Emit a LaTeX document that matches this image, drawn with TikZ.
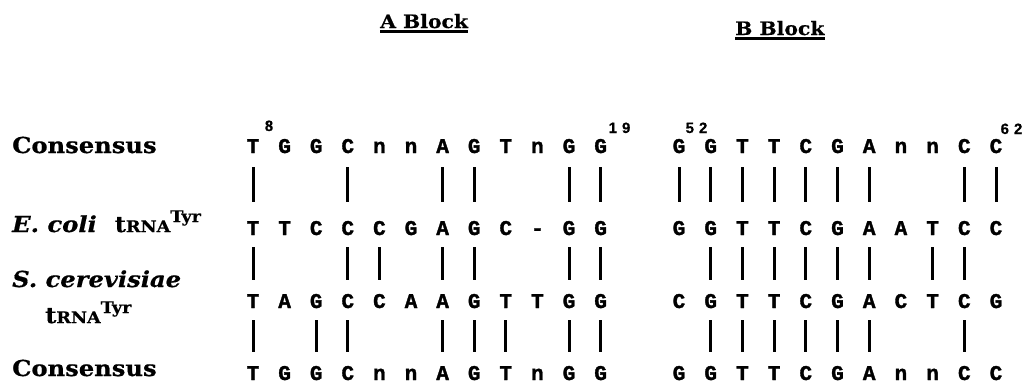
\documentclass[tikz,border=0pt]{standalone}
\usepackage{fontspec}
\newfontfamily\labf{DejaVu Serif}[FakeStretch=1.1,BoldFeatures={FakeBold=0.6},BoldItalicFeatures={FakeBold=0.6}]
\newfontfamily\seqf{Liberation Mono}[BoldFeatures={FakeBold=1.6}]
\newfontfamily\numf{Liberation Sans}[BoldFeatures={FakeBold=0.5}]
\begin{document}
\begin{tikzpicture}[x=1pt,y=-1pt,
  lab/.style={anchor=base west,inner sep=0pt,font=\labf\bfseries\fontsize{22}{24}\selectfont},
  ttl/.style={anchor=base west,inner sep=0pt,font=\labf\bfseries\fontsize{18.5}{20}\selectfont},
  seqch/.style={anchor=base,inner sep=0pt,font=\seqf\bfseries\fontsize{21}{22}\selectfont},
  num/.style={anchor=base,inner sep=0pt,font=\numf\bfseries\fontsize{15}{16}\selectfont},
  bar/.style={line width=3pt},
  uline/.style={line width=2.5pt}]
\useasboundingbox (0,0) rectangle (1027,388);
% titles
\node[ttl] (tA) at (380,28) {A Block};
\node[ttl] (tB) at (735,35) {B Block};
\draw[uline] ([yshift=-3.5pt]tA.base west) -- ([yshift=-3.5pt]tA.base east);
\draw[uline] ([yshift=-3.5pt]tB.base west) -- ([yshift=-3.5pt]tB.base east);
% row labels
\node[lab] (cons1) at (12,153) {Consensus};
\node[lab] (ecoli) at (12,232) {\itshape E. coli\upshape\hspace{18pt}t{\fontsize{16}{16}\selectfont RNA}\raisebox{10pt}{\fontsize{16}{16}\selectfont Tyr}};
\node[lab] (scer) at (12,287) {\itshape S. cerevisiae};
\node[lab] (scer2) at (45,323) {t{\fontsize{16}{16}\selectfont RNA}\raisebox{10pt}{\fontsize{16}{16}\selectfont Tyr}};
\node[lab] (cons2) at (12,376) {Consensus};
% position numbers
\node[num] (n8) at (269,131) {8};
\node[num] (n19) at (619.5,133) {1\hspace{5pt}9};
\node[num] (n52) at (696.5,133) {5\hspace{5pt}2};
\node[num] (n62) at (1011.5,134) {6\hspace{5pt}2};
% sequences
\foreach \r/\yy/\sA/\sB in {
  1/153/{T,G,G,C,n,n,A,G,T,n,G,G}/{G,G,T,T,C,G,A,n,n,C,C},
  2/235/{T,T,C,C,C,G,A,G,C,-,G,G}/{G,G,T,T,C,G,A,A,T,C,C},
  3/308/{T,A,G,C,C,A,A,G,T,T,G,G}/{C,G,T,T,C,G,A,C,T,C,G},
  4/380/{T,G,G,C,n,n,A,G,T,n,G,G}/{G,G,T,T,C,G,A,n,n,C,C}}{
  \foreach \ch [count=\k from 0] in \sA
    \node[seqch] (a\r c\k) at ({253+31.6*\k},\yy) {\ch};
  \foreach \ch [count=\k from 0] in \sB
    \node[seqch] (b\r c\k) at ({679+31.7*\k},\yy) {\ch};
}
% bars row 1-2
\foreach \k in {0,3,6,7,10,11}
  \draw[bar] ([yshift=-14pt]a1c\k.base) -- ([yshift=33pt]a2c\k.base);
\foreach \k in {0,1,2,3,4,5,6,9,10}
  \draw[bar] ([yshift=-14pt]b1c\k.base) -- ([yshift=33pt]b2c\k.base);
% bars row 2-3
\foreach \k in {0,3,4,6,7,10,11}
  \draw[bar] ([yshift=-12pt]a2c\k.base) -- ([yshift=28pt]a3c\k.base);
\foreach \k in {1,2,3,4,5,6,8,9}
  \draw[bar] ([yshift=-12pt]b2c\k.base) -- ([yshift=28pt]b3c\k.base);
% bars row 3-4
\foreach \k in {0,2,3,6,7,8,10,11}
  \draw[bar] ([yshift=-12pt]a3c\k.base) -- ([yshift=28pt]a4c\k.base);
\foreach \k in {1,2,3,4,5,6,9}
  \draw[bar] ([yshift=-12pt]b3c\k.base) -- ([yshift=28pt]b4c\k.base);
\end{tikzpicture}
\end{document}
